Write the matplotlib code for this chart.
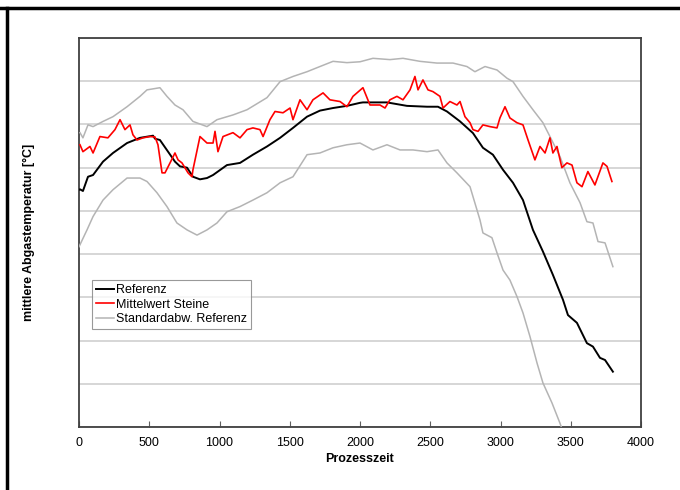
import matplotlib
matplotlib.use("Agg")
import matplotlib.pyplot as plt
from matplotlib.lines import Line2D

plt.rcParams['font.family'] = ['Liberation Sans', 'DejaVu Sans']

# Referenz
ref_t = [0, 7, 28, 64, 100, 171, 242, 342, 434, 527, 541, 576, 683, 719, 769, 811, 861, 911, 954,
         1053, 1146, 1238, 1338, 1431, 1523, 1623, 1715, 1808, 1907, 2000, 2021, 2192, 2334, 2477,
         2555, 2619, 2712, 2804, 2875, 2946, 3018, 3089, 3160, 3231, 3302, 3373, 3445, 3480, 3544,
         3615, 3658, 3708, 3744, 3800]
ref_v = [549, 550, 546, 579, 583, 614, 634, 657, 669, 674, 667, 664, 614, 603, 600, 579, 573, 576, 583,
         606, 611, 630, 649, 669, 692, 718, 732, 738, 743, 750, 751, 751, 743, 741,
         741, 730, 707, 680, 646, 630, 595, 565, 525, 456, 406, 352, 294, 259, 241,
         194, 186, 160, 155, 128]

# Mittelwert Steine
stein_t = [7, 28, 78, 100, 149, 206, 256, 292, 327, 363, 384, 413, 455, 505, 541, 562, 591, 612, 648,
           683, 705, 733, 776, 804, 811, 861, 911, 954, 968, 989, 1025, 1096, 1146, 1196, 1238, 1288,
           1310, 1359, 1395, 1452, 1502, 1523, 1573, 1623, 1665, 1737, 1786, 1858, 1907, 1950, 2021,
           2071, 2142, 2178, 2213, 2263, 2306, 2356, 2391, 2413, 2448, 2484, 2519, 2569, 2591, 2640,
           2690, 2712, 2747, 2783, 2804, 2840, 2875, 2925, 2975, 2996, 3032, 3067, 3117, 3160, 3196,
           3245, 3281, 3317, 3352, 3373, 3402, 3437, 3473, 3509, 3544, 3580, 3622, 3672, 3729, 3758,
           3793]
stein_v = [653, 637, 649, 634, 672, 669, 688, 711, 688, 699, 676, 664, 669, 672, 671, 653, 588, 588, 611,
           634, 618, 611, 588, 579, 595, 672, 657, 657, 684, 637, 672, 681, 669, 688, 692, 688,
           672, 711, 730, 727, 738, 711, 757, 734, 757, 773, 757, 753, 741, 765, 785,
           745, 745, 738, 757, 765, 757, 780, 811, 780, 803, 780, 776, 765, 738, 753,
           745, 753, 718, 704, 688, 684, 699, 695, 692, 715, 741, 715, 704, 699, 664,
           618, 649, 634, 669, 634, 649, 600, 611, 606, 565, 556, 591, 560, 611, 603,
           568]

# Standardabweichung Referenz (obere Grenze)
sd_hi_t = [7, 28, 64, 100, 171, 242, 342, 434, 484, 576, 626, 683, 740, 811, 911, 982, 1096, 1196,
           1338, 1431, 1523, 1623, 1715, 1808, 1907, 2000, 2092, 2213, 2306, 2427, 2548, 2662, 2761,
           2818, 2890, 2975, 3046, 3089, 3160, 3231, 3302, 3352, 3423, 3494, 3566, 3615, 3658, 3694,
           3744, 3800]
sd_hi_v = [681, 669, 699, 695, 707, 718, 741, 765, 780, 785, 765, 745, 734, 707, 695, 711, 722, 734,
           762, 799, 811, 822, 834, 846, 843, 845, 853, 850, 853, 846, 842, 842, 834,
           822, 834, 826, 807, 799, 765, 734, 704, 672, 626, 565, 519, 475, 472, 429,
           426, 371]

# Standardabweichung Referenz (untere Grenze)
sd_lo_t = [0, 57, 100, 171, 242, 342, 434, 484, 555, 626, 697, 769, 840, 911, 982, 1053, 1146, 1238,
           1338, 1431, 1523, 1623, 1715, 1808, 1907, 2000, 2092, 2192, 2285, 2377, 2477, 2555, 2619,
           2690, 2783, 2854, 2875, 2939, 2975, 3018, 3067, 3117, 3160, 3210, 3260, 3302, 3366, 3423,
           3466]
sd_lo_v = [417, 456, 487, 525, 549, 576, 576, 568, 542, 510, 472, 456, 444, 456, 472, 498, 510, 525,
           542, 565, 579, 630, 634, 646, 653, 657, 641, 653, 641, 641, 637, 641, 611,
           588, 556, 479, 449, 438, 403, 363, 340, 302, 264, 209, 148, 102, 56, 9,
           -30]

x_ticks = [0, 500, 1000, 1500, 2000, 2500, 3000, 3500, 4000]

fig = plt.figure(figsize=(6.8, 4.9), dpi=100)
ax = fig.add_axes([79 / 680, 63 / 490, 562 / 680, 389 / 490])

grey = '#b4b4b4'
ax.plot(ref_t, ref_v, color='black', lw=1.4, label='Referenz', zorder=4)
ax.plot(stein_t, stein_v, color='#ff0000', lw=1.2, label='Mittelwert Steine', zorder=5)
ax.plot(sd_hi_t, sd_hi_v, color=grey, lw=1.1, label='Standardabw. Referenz', zorder=3)
ax.plot(sd_lo_t, sd_lo_v, color=grey, lw=1.1, zorder=3)

ax.set_xlim(0, 4000)
ax.set_ylim(0, 900)
ax.set_xticks(x_ticks)
ax.set_yticks(range(0, 901, 100))
ax.set_yticklabels([])
ax.tick_params(axis='y', length=0)
ax.tick_params(axis='x', direction='in', length=4, width=0.8, color='#606060',
               labelsize=9, pad=7)
ax.grid(axis='y', color='#cccccc', lw=1.1)
ax.set_axisbelow(True)
for sp in ax.spines.values():
    sp.set_color('#404040')
    sp.set_linewidth(1.3)

ax.set_xlabel('Prozesszeit', fontsize=9, fontweight='bold')
ax.xaxis.set_label_coords(0.5, -0.068)
ax.set_ylabel('mittlere Abgastemperatur [°C]', fontsize=9, fontweight='bold')
ax.yaxis.set_label_coords(-0.078, 0.5)

leg = ax.legend(loc='lower left', bbox_to_anchor=(0.024, 0.252), borderaxespad=0,
                fontsize=9, frameon=True, fancybox=False, handlelength=1.45,
                handletextpad=0.15, borderpad=0.3, labelspacing=0.2)
leg.get_frame().set_edgecolor('#808080')
leg.get_frame().set_linewidth(0.8)

# outer frame lines
fig.add_artist(Line2D([0, 1], [1 - 8 / 490, 1 - 8 / 490], color='black', lw=2.5,
                      transform=fig.transFigure))
fig.add_artist(Line2D([7 / 680, 7 / 680], [0, 1 - 8 / 490], color='black', lw=2.5,
                      transform=fig.transFigure))

fig.savefig('out.png', dpi=100)
